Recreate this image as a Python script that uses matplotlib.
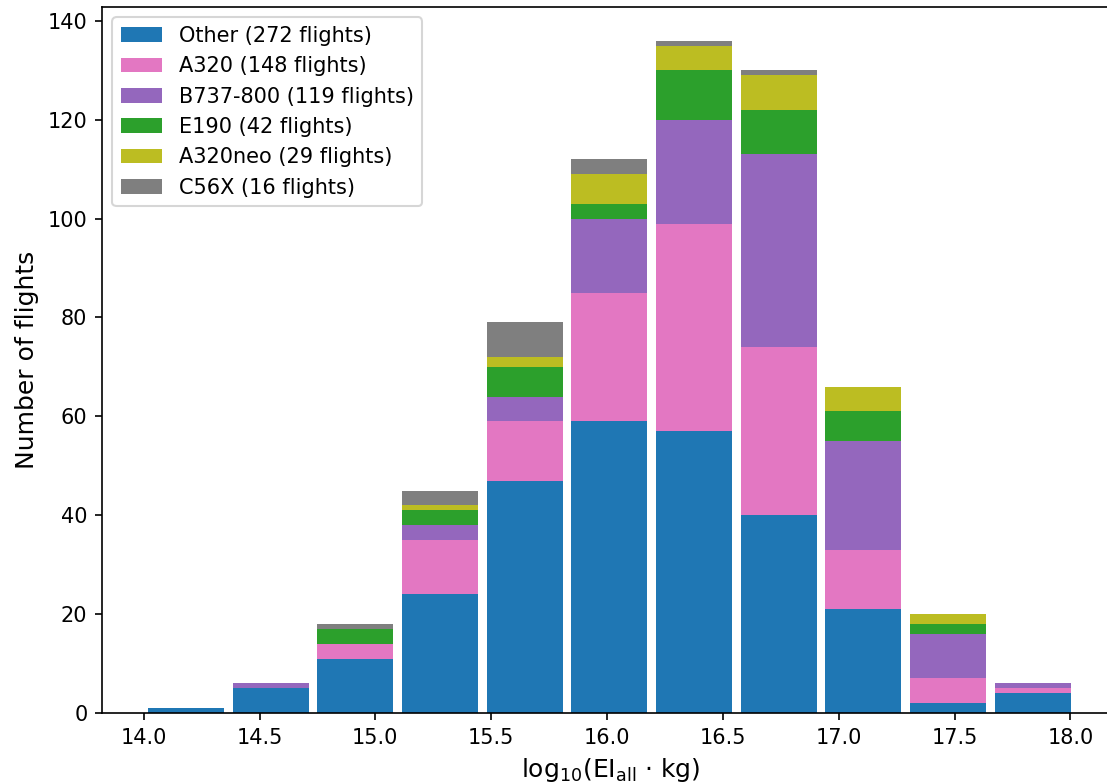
import numpy as np
import matplotlib
matplotlib.use("Agg")
import matplotlib.pyplot as plt

# Histogram bins of log10(EI_all * kg)
bin_edges = np.linspace(14.0, 18.02, 12)

# counts per bin
other = [1, 5, 11, 24, 47, 59, 57, 40, 21, 2, 4]
a320 = [0, 0, 3, 11, 12, 26, 42, 34, 12, 5, 1]
b737 = [0, 1, 0, 3, 5, 15, 21, 39, 22, 9, 1]
e190 = [0, 0, 3, 3, 6, 3, 10, 9, 6, 2, 0]
a320neo = [0, 0, 0, 1, 2, 6, 5, 7, 5, 2, 0]
c56x = [0, 0, 1, 3, 7, 3, 1, 1, 0, 0, 0]

labels = ["Other (272 flights)", "A320 (148 flights)", "B737-800 (119 flights)",
          "E190 (42 flights)", "A320neo (29 flights)", "C56X (16 flights)"]
colors = ["tab:blue", "tab:pink", "tab:purple", "tab:green", "tab:olive", "tab:gray"]
series = [other, a320, b737, e190, a320neo, c56x]

centers = 0.5 * (bin_edges[:-1] + bin_edges[1:])
widths = 0.9 * np.diff(bin_edges)

fig = plt.figure(figsize=(1107 / 150, 783 / 150), dpi=150)
ax = fig.add_axes([102 / 1107, 1 - 713 / 783, (1119 - 102) / 1107, (713 - 7) / 783])

bottom = np.zeros(len(centers))
for vals, lab, col in zip(series, labels, colors):
    vals = np.array(vals)
    ax.bar(centers, vals, width=widths, bottom=bottom, color=col, label=lab)
    bottom += vals

ax.set_xlim(13.82, 18.21)
ax.set_ylim(0, 142.8)
ax.set_xticks([14.0, 14.5, 15.0, 15.5, 16.0, 16.5, 17.0, 17.5, 18.0])
ax.set_xlabel(r"log$_{10}$(EI$_{\mathrm{all}}$ $\cdot$ kg)", fontsize=12)
ax.set_ylabel("Number of flights", fontsize=12)
ax.legend(loc="upper left", fontsize=10)

fig.savefig("out.png", dpi=150)
